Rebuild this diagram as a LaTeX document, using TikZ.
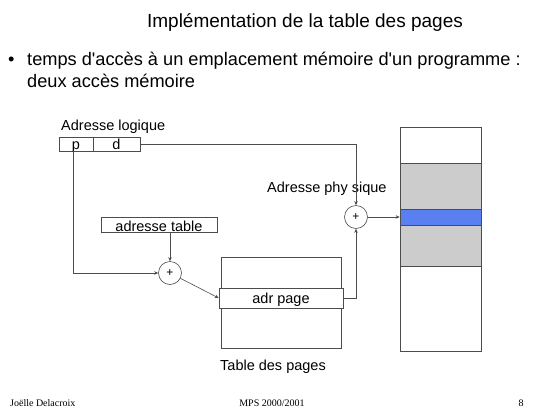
\documentclass[tikz,border=0pt]{standalone}
\usepackage{fontspec}
\setmainfont{Liberation Sans}
\newfontfamily\footfont{Liberation Serif}
\usetikzlibrary{arrows.meta,positioning}
\definecolor{memgray}{HTML}{CCCCCC}
\definecolor{memblue}{HTML}{5A7FF0}
\begin{document}
\begin{tikzpicture}[x=1pt,y=-1pt,
    box/.style={draw=black!70, line width=0.6pt, inner sep=0pt, text depth=0pt, font=\fontsize{14.5}{14.5}\selectfont},
    wire/.style={draw=black!70, line width=0.6pt},
    arr/.style={wire, -{Stealth[length=4pt,width=3.5pt]}},
    adder/.style={circle, draw=black!70, line width=0.6pt, minimum size=23pt, inner sep=0pt, font=\fontsize{12}{12}\selectfont},
    lab/.style={anchor=base west, inner sep=0pt, font=\fontsize{14.5}{14.5}\selectfont},
    big/.style={anchor=base west, inner sep=0pt, font=\fontsize{18.2}{18.2}\selectfont},
    foot/.style={anchor=base, inner sep=0pt, font=\footfont\fontsize{10}{10}\selectfont},
  ]
  \useasboundingbox (0,0) rectangle (550,413);
  % titre et texte
  \node[anchor=base, inner sep=0pt, font=\fontsize{19}{19}\selectfont] (title) at (305,27) {Implémentation de la table des pages};
  \node[big] (bullet) at (8,65) {•};
  \node[big] (line1) at (27,65) {temps d\textquotesingle accès à un emplacement mémoire d\textquotesingle un programme :};
  \node[big] (line2) at (27,87) {deux accès mémoire};
  % adresse logique
  \node[lab] (loglab) at (61,130) {Adresse logique};
  \node[box, text height=11pt, minimum width=34pt, minimum height=14pt] (pcell) at (76,144) {p};
  \node[box, text height=11pt, minimum width=47pt, minimum height=14pt] (dcell) at (116.5,144) {d};
  \node[box, text height=14pt, minimum width=116pt, minimum height=15pt] (tabaddr) at (159,224.5) {adresse table};
  % table des pages
  \node[box, minimum width=120pt, minimum height=91pt] (table) at (281,302.5) {};
  \node[box, fill=white, minimum width=124pt, minimum height=20pt] (adrpage) at (281,298) {adr page};
  \node[lab, anchor=base] (tablab) at (273,370) {Table des pages};
  % memoire
  \node[box, minimum width=81pt, minimum height=224pt] (mem) at (440.5,239) {};
  \node[box, fill=memgray, minimum width=81pt, minimum height=103pt] (memzone) at (440.5,214.5) {};
  \node[box, fill=memblue, minimum width=81pt, minimum height=16pt] (memcase) at (440.5,217) {};
  \node[lab] (physlab) at (267,192) {Adresse phy sique};
  % additionneurs
  \node[adder] (sum1) at (356,217) {+};
  \node[adder] (sum2) at (170,273) {+};
  % liaisons
  \draw[arr] ([xshift=-3pt]pcell.south) |- (sum2.west);
  \draw[arr] (tabaddr.south -| sum2.north) -- (sum2.north);
  \draw[arr] (sum2) -- (adrpage.west);
  \draw[arr] (adrpage.east) -| (sum1.south);
  \draw[arr] (dcell.east) -| (sum1.north);
  \draw[arr] (sum1) -- (memcase.west);
  % pied de page
  \node[foot, anchor=base west] (author) at (10,406) {Joëlle Delacroix};
  \node[foot] (course) at (272,406) {MPS 2000/2001};
  \node[foot] (page) at (521,406) {8};
\end{tikzpicture}
\end{document}
